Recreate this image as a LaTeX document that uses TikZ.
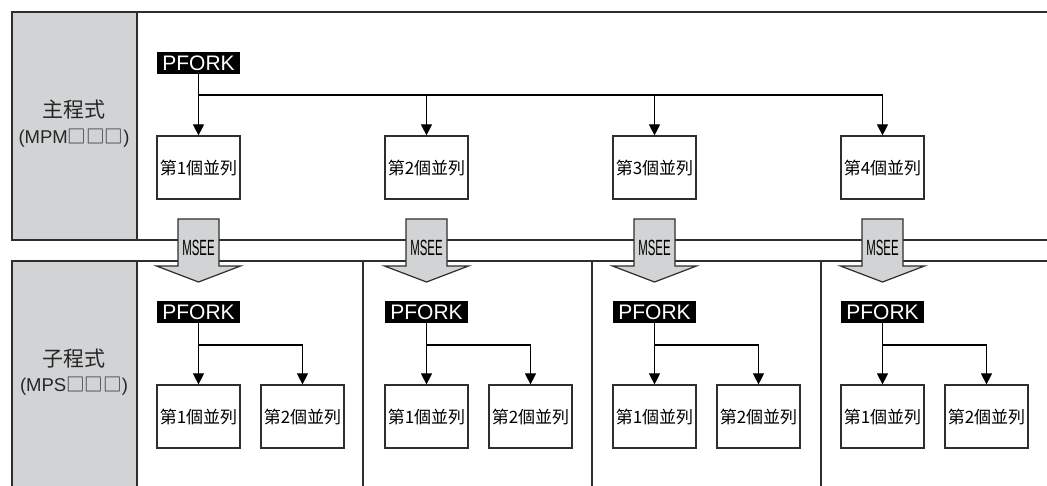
\documentclass[tikz,border=0pt]{standalone}
\usepackage{fontspec}
\setmainfont{Liberation Sans}
\newfontfamily\cjk{Noto Sans CJK TC}
\usetikzlibrary{arrows.meta}
\definecolor{panelgray}{HTML}{D1D3D4}
\definecolor{linecol}{HTML}{2E2E2E}
\tikzset{
  frame/.style={draw=linecol, line width=1.3pt},
  graycol/.style={fill=panelgray, draw=linecol, line width=1.3pt},
  taskbox/.style={draw=linecol, line width=1.2pt, fill=white, minimum width=83pt, minimum height=63pt, inner sep=0pt, font=\cjk\fontsize{17}{17}\selectfont},
  pforkbox/.style={fill=black, text=white, minimum width=83pt, minimum height=22pt, inner sep=0pt, font=\fontsize{21}{21}\selectfont},
  conn/.style={draw=black, line width=1.1pt},
  tip/.style={-{Triangle[width=11pt,length=11pt]}},
  msee/.style={fill=panelgray, draw=linecol, line width=1.2pt},
  sidelabel/.style={inner sep=0pt, text=black!85}
}
\begin{document}
\begin{tikzpicture}[x=1pt,y=-1pt]
\useasboundingbox (0,0) rectangle (1047,485);
\clip (0,0) rectangle (1047,485);
\fill[white] (0,0) rectangle (1047,485);
% top panel
\draw[frame] (1047,12) -- (12,12) -- (12,240) -- (1047,240);
\draw[graycol] (12,12) rectangle (137,240);
% bottom panel
\draw[frame] (1047,261) -- (12,261) -- (12,490);
\draw[graycol] (12,261) rectangle (137,490);
\foreach \sx in {363,592,821} \draw[frame] (\sx,261) -- (\sx,490);
% side labels
\node[sidelabel, font=\cjk\fontsize{21}{21}\selectfont] (mainlbl) at (74,110) {主程式};
\node[sidelabel, font=\fontsize{18.5}{18.5}\selectfont] (mainsub) at (74,138) {(MPM{\cjk □□□})};
\node[sidelabel, font=\cjk\fontsize{21}{21}\selectfont] (sublbl) at (74,359) {子程式};
\node[sidelabel, font=\fontsize{18.5}{18.5}\selectfont] (subsub) at (74,386) {(MPS{\cjk □□□})};
% top
\node[pforkbox] (pf) at (198.5,63) {PFORK};
\foreach \i/\c in {1/198.5,2/426.5,3/654.5,4/882.5}
  \node[taskbox] (t\i) at (\c,167.5) {第\i 個並列};
\coordinate (bus) at (0,95);
\draw[conn] (pf.south |- bus) -- (t4.north |- bus);
\draw[conn,tip] (pf.south) -- (t1.north);
\foreach \i in {2,3,4} \draw[conn,tip] (t\i.north |- bus) -- (t\i.north);
% MSEE arrows
\foreach \i/\c in {1/198.5,2/426.5,3/654.5,4/882.5}{
  \draw[msee] (\c-20.5,219) -- (\c+20.5,219) -- (\c+20.5,266) -- (\c+42,266) -- (\c,282) -- (\c-42,266) -- (\c-20.5,266) -- cycle;
  \node[inner sep=0pt] (ms\i) at (\c,248) {\scalebox{0.52}[1]{\fontsize{22}{22}\selectfont MSEE}};
}
% bottom groups
\foreach \i/\c in {1/198.5,2/426.5,3/654.5,4/882.5}{
  \node[pforkbox] (spf\i) at (\c,312) {PFORK};
  \node[taskbox] (sa\i) at (\c,416.5) {第1個並列};
  \node[taskbox] (sb\i) at (\c+104,416.5) {第2個並列};
  \coordinate (sbus\i) at (\c,345);
  \draw[conn,tip] (spf\i.south) -- (sa\i.north);
  \draw[conn,tip] (sbus\i) -| (sb\i.north);
}
\end{tikzpicture}
\end{document}
